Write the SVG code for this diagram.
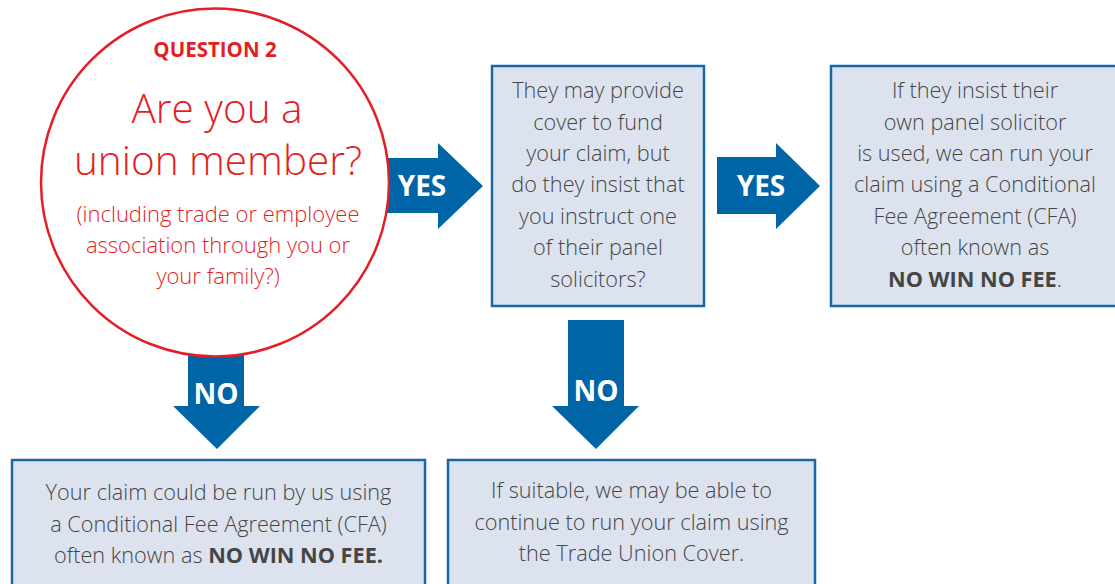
<svg xmlns="http://www.w3.org/2000/svg" width="1115" height="584" viewBox="0 0 1115 584">
<style>
.arrow{fill:#0065a6}
.lbl{font-family:"Open Sans","DejaVu Sans",sans-serif;font-weight:700;fill:#ffffff;text-anchor:middle;font-size:28px}
.box{fill:#dce3ef;stroke:#1767a8;stroke-width:2.5}
.bt{font-family:"Open Sans","DejaVu Sans",sans-serif;font-weight:300;fill:#454545;text-anchor:middle;font-size:21.7px}
.b{font-weight:700}
.red{font-family:"Open Sans","DejaVu Sans",sans-serif;fill:#e31e24;text-anchor:middle;font-weight:300}
</style>
<rect width="1115" height="584" fill="#ffffff"/>
<g id="connectors">
  <g id="yes1">
    <polygon class="arrow" points="370,158 438,158 438,143 483,186 438,229 438,213 370,213"/>
    <text class="lbl" x="422" y="196">YES</text>
  </g>
  <g id="yes2">
    <polygon class="arrow" points="717,157 776,157 776,143 820,186 776,229 776,214 717,214"/>
    <text class="lbl" x="761" y="196">YES</text>
  </g>
  <g id="no1">
    <polygon class="arrow" points="188,330 244,330 244,406 260,406 217,449 173,406 188,406"/>
    <text class="lbl" x="216" y="404">NO</text>
  </g>
  <g id="no2">
    <polygon class="arrow" points="568,320 624,320 624,406 639,406 596,449 552,406 568,406"/>
    <text class="lbl" x="596" y="401">NO</text>
  </g>
</g>
<g id="question">
  <circle cx="215" cy="182.5" r="174" fill="#ffffff" stroke="#e31e24" stroke-width="2.5"/>
  <text class="red" x="215" y="57" font-size="20.5" style="font-weight:700">QUESTION 2</text>
  <text class="red" x="217" y="123" font-size="40.5">Are you a</text>
  <text class="red" x="218" y="175" font-size="40.5">union member?</text>
  <text class="red" x="218" y="222" font-size="22">(including trade or employee</text>
  <text class="red" x="218" y="253" font-size="22">association through you or</text>
  <text class="red" x="218" y="284" font-size="22">your family?)</text>
</g>
<g id="cover">
  <rect class="box" x="492" y="66" width="212" height="240"/>
  <text class="bt" x="598" y="98">They may provide</text>
  <text class="bt" x="598" y="129.5">cover to fund</text>
  <text class="bt" x="598" y="161">your claim, but</text>
  <text class="bt" x="598" y="192">do they insist that</text>
  <text class="bt" x="598" y="223.5">you instruct one</text>
  <text class="bt" x="598" y="255">of their panel</text>
  <text class="bt" x="598" y="286.5">solicitors?</text>
</g>
<g id="panel">
  <rect class="box" x="831" y="66" width="290" height="240"/>
  <text class="bt" x="975" y="98">If they insist their</text>
  <text class="bt" x="975" y="129.5">own panel solicitor</text>
  <text class="bt" x="975" y="161">is used, we can run your</text>
  <text class="bt" x="975" y="192">claim using a Conditional</text>
  <text class="bt" x="975" y="223.5">Fee Agreement (CFA)</text>
  <text class="bt" x="975" y="255">often known as</text>
  <text class="bt" x="975" y="286.5"><tspan class="b">NO WIN NO FEE</tspan>.</text>
</g>
<g id="cfa">
  <rect class="box" x="12" y="460" width="413" height="140"/>
  <text class="bt" x="218.5" y="500">Your claim could be run by us using</text>
  <text class="bt" x="218.5" y="531.5">a Conditional Fee Agreement (CFA)</text>
  <text class="bt" x="218.5" y="563">often known as <tspan class="b">NO WIN NO FEE.</tspan></text>
</g>
<g id="tradeunion">
  <rect class="box" x="448" y="460" width="367" height="140"/>
  <text class="bt" x="631.5" y="498">If suitable, we may be able to</text>
  <text class="bt" x="631.5" y="529.5">continue to run your claim using</text>
  <text class="bt" x="631.5" y="561">the Trade Union Cover.</text>
</g>
</svg>
